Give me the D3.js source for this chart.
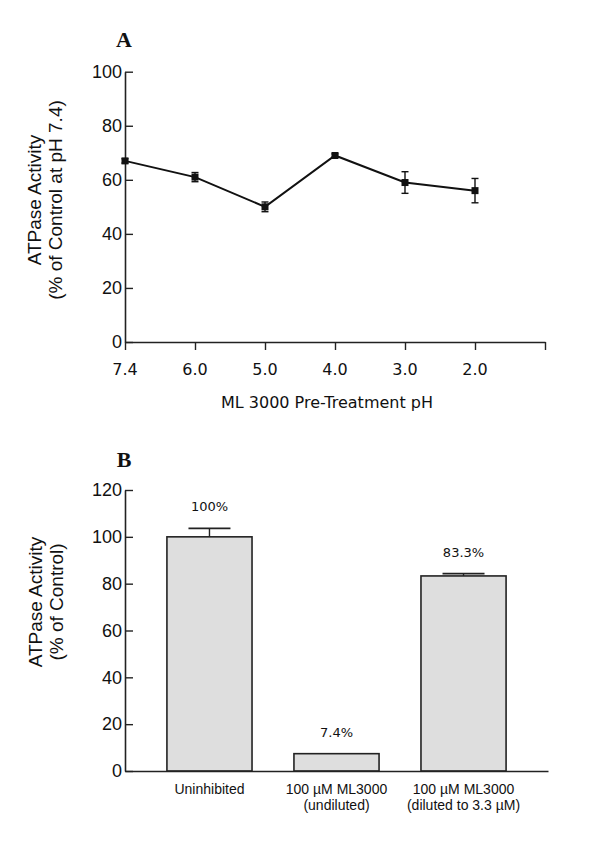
<!DOCTYPE html>
<html><head><meta charset="utf-8">
<script src="https://cdn.jsdelivr.net/npm/d3@7"></script>
<style>body{margin:0;background:#fff}svg{display:block}</style>
</head><body>
<script>
// Panel A data
const phLabels = ["7.4", "6.0", "5.0", "4.0", "3.0", "2.0"];
const activityA = [67, 61, 50, 69, 59, 56];
const errorA = [0.8, 1.7, 1.8, 0.6, 4, 4.5];
const yTicksA = [0, 20, 40, 60, 80, 100];

// Panel B data
const groupsB = [["Uninhibited"], ["100 \u00b5M ML3000", "(undiluted)"], ["100 \u00b5M ML3000", "(diluted to 3.3 \u00b5M)"]];
const activityB = [100, 7.4, 83.3];
const errorB = [3.6, 0, 1];
const valueLabelsB = ["100%", "7.4%", "83.3%"];
const yTicksB = [0, 20, 40, 60, 80, 100, 120];

const W = 600, H = 864;
const svg = d3.select("body").append("svg").attr("width", W).attr("height", H);
const sans = "Liberation Sans, Arial, Helvetica, sans-serif";
const geneva = "DejaVu Sans, Verdana, sans-serif";

// ---------- Panel A ----------
const xA = d3.scaleLinear().domain([0, 6]).range([125, 545]);
const yA = d3.scaleLinear().domain([0, 100]).range([342, 71.7]);
const gA = svg.append("g");

const yAxisA = gA.append("g").attr("transform", "translate(125,0)")
  .call(d3.axisLeft(yA).tickValues(yTicksA).tickSize(8).tickSizeOuter(0).tickFormat(d3.format("d")));
const xAxisA = gA.append("g").attr("transform", "translate(0,342)")
  .call(d3.axisTop(xA).tickValues(d3.range(0, 7)).tickSize(8).tickSizeOuter(0).tickFormat(""));
xAxisA.selectAll(".tick line").attr("transform", "translate(0,8)");
[yAxisA, xAxisA].forEach(a => {
  a.select(".domain").attr("stroke", "#222").attr("stroke-width", 1.6);
  a.selectAll(".tick line").attr("stroke", "#222").attr("stroke-width", 1.4);
});
yAxisA.selectAll(".tick line").attr("x2", 8);
yAxisA.selectAll(".tick text").attr("x", -3).attr("font-family", sans).attr("font-size", 18).attr("fill", "#111");

gA.selectAll("text.xt").data(phLabels).join("text").attr("class", "xt")
  .attr("x", (d, i) => xA(i)).attr("y", 375).attr("text-anchor", "middle")
  .attr("font-family", geneva).attr("font-size", 16).attr("fill", "#111").text(d => d);

gA.append("text").attr("x", 327).attr("y", 408).attr("text-anchor", "middle")
  .attr("font-family", geneva).attr("font-size", 16).attr("fill", "#111").text("ML 3000 Pre-Treatment pH");

const labA = gA.append("text").attr("transform", "translate(0,200) rotate(-90)")
  .attr("text-anchor", "middle").attr("font-family", sans).attr("font-size", 19).attr("fill", "#111");
labA.append("tspan").attr("x", 0).attr("y", 41).text("ATPase Activity");
labA.append("tspan").attr("x", 0).attr("y", 62).text("(% of Control at pH 7.4)");

gA.append("text").attr("x", 124).attr("y", 47).attr("text-anchor", "middle")
  .attr("font-family", "Liberation Serif, Times New Roman, serif").attr("font-weight", "bold")
  .attr("font-size", 22).attr("fill", "#111").text("A");

const line = d3.line().x((d, i) => xA(i)).y(d => yA(d));
gA.append("path").datum(activityA).attr("d", line).attr("fill", "none")
  .attr("stroke", "#111").attr("stroke-width", 2);

const ptsA = activityA.map((v, i) => ({i, v, e: errorA[i]}));
const errA = gA.selectAll("g.err").data(ptsA).join("g").attr("class", "err");
errA.append("line").attr("x1", d => xA(d.i)).attr("x2", d => xA(d.i))
  .attr("y1", d => yA(d.v + d.e)).attr("y2", d => yA(d.v - d.e))
  .attr("stroke", "#111").attr("stroke-width", 1.4);
[1, -1].forEach(s => {
  errA.append("line").attr("x1", d => xA(d.i) - 3.5).attr("x2", d => xA(d.i) + 3.5)
    .attr("y1", d => yA(d.v + s * d.e)).attr("y2", d => yA(d.v + s * d.e))
    .attr("stroke", "#111").attr("stroke-width", 1.4);
});
gA.selectAll("rect.pt").data(ptsA).join("rect").attr("class", "pt")
  .attr("x", d => xA(d.i) - 3.5).attr("y", d => yA(d.v) - 3.5)
  .attr("width", 7).attr("height", 7).attr("fill", "#111");

// ---------- Panel B ----------
const xB = d3.scaleBand().domain(d3.range(groupsB.length)).range([125, 548]).padding(0.33);
const yB = d3.scaleLinear().domain([0, 120]).range([771, 490]);
const gB = svg.append("g");
const barsB = activityB.map((v, i) => ({i, v, e: errorB[i], lab: valueLabelsB[i], cx: xB(i) + xB.bandwidth() / 2}));

gB.selectAll("rect.bar").data(barsB).join("rect").attr("class", "bar")
  .attr("x", d => xB(d.i)).attr("width", xB.bandwidth())
  .attr("y", d => yB(d.v)).attr("height", d => yB(0) - yB(d.v))
  .attr("fill", "#dedede").attr("stroke", "#222").attr("stroke-width", 1.6);

const errB = gB.selectAll("g.errb").data(barsB.filter(d => d.e > 0)).join("g").attr("class", "errb");
errB.append("line").attr("x1", d => d.cx).attr("x2", d => d.cx)
  .attr("y1", d => yB(d.v)).attr("y2", d => yB(d.v + d.e))
  .attr("stroke", "#222").attr("stroke-width", 1.4);
errB.append("line").attr("x1", d => d.cx - 21).attr("x2", d => d.cx + 21)
  .attr("y1", d => yB(d.v + d.e)).attr("y2", d => yB(d.v + d.e))
  .attr("stroke", "#222").attr("stroke-width", 1.6);

gB.selectAll("text.vl").data(barsB).join("text").attr("class", "vl")
  .attr("x", d => d.cx).attr("y", d => yB(d.v + d.e) - 17)
  .attr("text-anchor", "middle").attr("font-family", geneva).attr("font-size", 13).attr("fill", "#111").text(d => d.lab);

const yAxisB = gB.append("g").attr("transform", "translate(125,0)")
  .call(d3.axisLeft(yB).tickValues(yTicksB).tickSize(8).tickSizeOuter(0).tickFormat(d3.format("d")));
yAxisB.selectAll(".tick line").attr("x2", 8);
yAxisB.selectAll(".tick text").attr("x", -3).attr("font-family", sans).attr("font-size", 18).attr("fill", "#111");
const xAxisB = gB.append("g").attr("transform", "translate(0,771)")
  .call(d3.axisBottom(d3.scaleLinear().domain([0, 1]).range([125, 548])).tickValues([]).tickSizeOuter(0));
[yAxisB, xAxisB].forEach(a => {
  a.select(".domain").attr("stroke", "#222").attr("stroke-width", 1.6);
  a.selectAll(".tick line").attr("stroke", "#222").attr("stroke-width", 1.4);
});

gB.selectAll("text.cat").data(groupsB).join("text").attr("class", "cat")
  .attr("text-anchor", "middle").attr("font-family", sans).attr("font-size", 14).attr("fill", "#111")
  .each(function(d, i) {
    const t = d3.select(this);
    d.forEach((s, j) => t.append("tspan").attr("x", xB(i) + xB.bandwidth() / 2).attr("y", 794 + j * 16).text(s));
  });

const labB = gB.append("text").attr("transform", "translate(0,602) rotate(-90)")
  .attr("text-anchor", "middle").attr("font-family", sans).attr("font-size", 19).attr("fill", "#111");
labB.append("tspan").attr("x", 0).attr("y", 42).text("ATPase Activity");
labB.append("tspan").attr("x", 0).attr("y", 63).text("(% of Control)");

gB.append("text").attr("x", 124).attr("y", 467).attr("text-anchor", "middle")
  .attr("font-family", "Liberation Serif, Times New Roman, serif").attr("font-weight", "bold")
  .attr("font-size", 22).attr("fill", "#111").text("B");
</script>
</body></html>
